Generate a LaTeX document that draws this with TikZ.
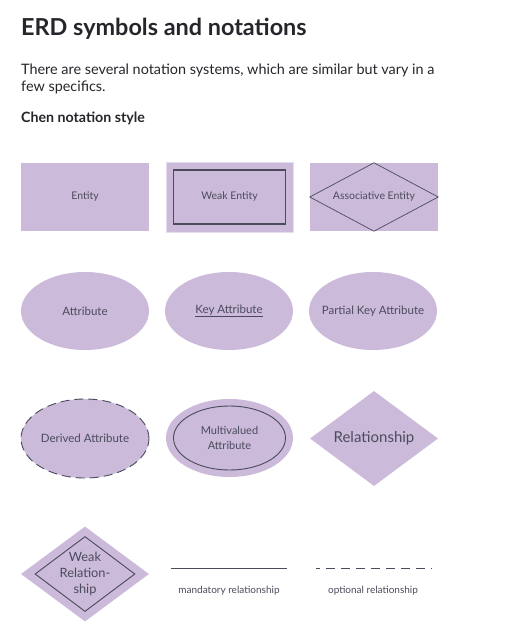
\documentclass[tikz,border=0pt]{standalone}
\usepackage{fontspec}
\setmainfont{Lato}
\usetikzlibrary{shapes.geometric}
\definecolor{lav}{HTML}{CBBADA}
\definecolor{lavlight}{HTML}{E6DCEE}
\definecolor{ink}{HTML}{4B4B5C}
\definecolor{head}{HTML}{25252B}
\begin{document}
\begin{tikzpicture}[x=1pt,y=-1pt,
  lbl/.style={text=ink,font=\fontsize{10.5}{12}\selectfont,align=center},
  lblb/.style={text=ink,font=\fontsize{11.5}{13.5}\selectfont,align=center},
  ent/.style={fill=lav,draw=none,minimum width=128pt,minimum height=68pt,inner sep=0pt},
  attr/.style={ellipse,fill=lav,draw=none,minimum width=128pt,minimum height=78pt,inner sep=0pt},
  edge/.style={draw=ink,line width=0.9pt}]
\useasboundingbox (0,0) rectangle (508,640);
% texts
\node[anchor=base west,text=head,inner sep=0pt,font=\fontsize{23.4}{26}\selectfont\bfseries] (title) at (21,35) {ERD symbols and notations};
\node[anchor=base west,text=head,inner sep=0pt,align=left,font=\fontsize{14.4}{17}\selectfont] (para) at (21,91) {There are several notation systems, which are similar but vary in a\\few specifics.};
\node[anchor=base west,text=head,inner sep=0pt,font=\fontsize{14.2}{16}\selectfont\bfseries] (sub) at (21,122) {Chen notation style};
% row 1
\node[ent] (entity) at (85,197) {};
\node[lbl] (entityt) at (entity) {Entity};
\node[ent,draw=lavlight,line width=1pt,minimum width=127pt,minimum height=70pt] (weak) at (229.5,197) {};
\node[draw=ink,line width=1.1pt,minimum width=112pt,minimum height=54pt,inner sep=0pt] (weakin) at (weak) {};
\node[lbl] (weakt) at (weak) {Weak Entity};
\node[ent] (assoc) at (374,197) {};
\draw[edge,line width=0.7pt] (assoc.west) -- (assoc.north) -- (assoc.east) -- (assoc.south) -- cycle;
\node[lbl] (assoct) at (assoc) {Associative Entity};
% row 2
\node[attr] (attr) at (85,311) {};
\node[lblb] (attrt) at (attr) {Attribute};
\node[attr] (key) at (229,311) {};
\node[lblb] (keyt) at (key) {\underline{Key Attribute}};
\node[attr] (pkey) at (373,311) {};
\node[lblb] (pkeyt) at (pkey) {Partial Key Attribute};
% row 3
\node[attr,minimum height=79pt,draw=ink,line width=0.9pt,dash pattern=on 9pt off 5pt] (derived) at (85,438.5) {};
\node[lblb] (derivedt) at (derived) {Derived Attribute};
\node[attr,minimum width=127pt] (multi) at (229.5,438) {};
\node[ellipse,draw=ink,line width=0.9pt,minimum width=112pt,minimum height=64pt,inner sep=0pt] (multiin) at (multi) {};
\node[lblb,font=\fontsize{11}{15}\selectfont] (multit) at (multi) {Multivalued\\Attribute};
\node[diamond,fill=lav,minimum width=128pt,minimum height=95pt,inner sep=0pt,aspect=1.35] (rel) at (374,438.5) {};
\node[lbl,font=\fontsize{15}{17}\selectfont] (relt) at (rel) {Relationship};
% row 4
\node[diamond,fill=lav,minimum width=128pt,minimum height=95pt,inner sep=0pt,aspect=1.35] (wrel) at (85,574) {};
\node[diamond,draw=ink,line width=0.9pt,minimum width=100pt,minimum height=75pt,inner sep=0pt,aspect=1.33] (wrelin) at (85,574) {};
\node[lbl,font=\fontsize{12.8}{16}\selectfont] (wrelt) at (85,574) {Weak\\Relation-\\ship};
\coordinate (m1) at (171,568);
\coordinate (m2) at (287,568);
\draw[edge] (m1) -- (m2);
\node[lbl,font=\fontsize{10}{12}\selectfont] (mt) at (229,591) {mandatory relationship};
\coordinate (o1) at (316,568);
\coordinate (o2) at (432,568);
\draw[edge,dash pattern=on 9pt off 6pt,dash phase=5pt] (o1) -- (o2);
\node[lbl,font=\fontsize{10}{12}\selectfont] (ot) at (373,591) {optional relationship};
\end{tikzpicture}
\end{document}
